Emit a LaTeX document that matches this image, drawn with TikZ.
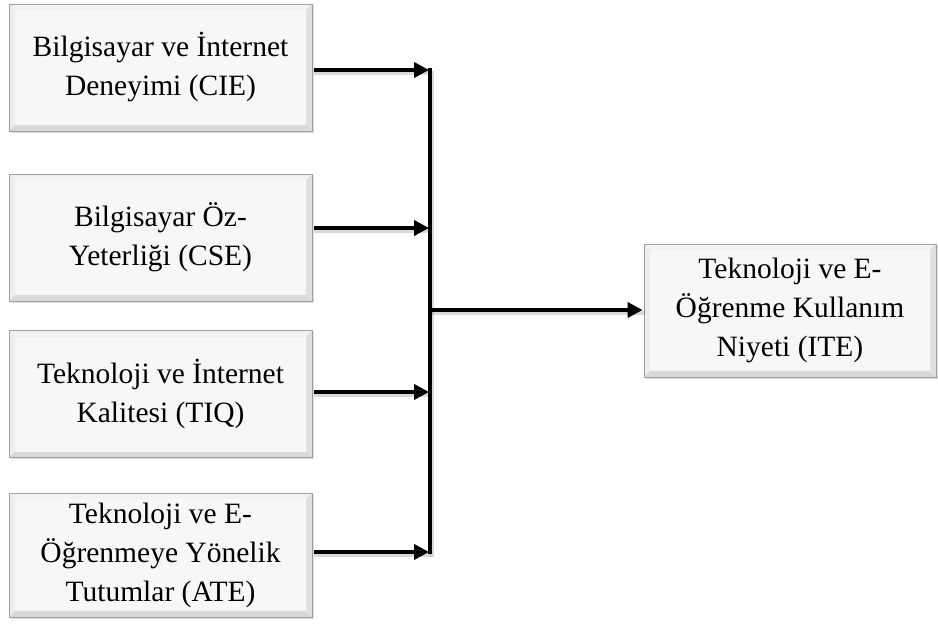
\documentclass[tikz,border=0pt]{standalone}
\usepackage{fontspec}
\setmainfont{Liberation Serif}
\usetikzlibrary{arrows.meta,shadows}
\begin{document}
\begin{tikzpicture}[x=1pt,y=-1pt,
  bevel/.style={path picture={
    \fill[gray!10] (path picture bounding box.north west) -- (path picture bounding box.north east)
      -- ([xshift=-6pt,yshift=-6pt]path picture bounding box.north east) -- ([xshift=6pt,yshift=-6pt]path picture bounding box.north west) -- cycle;
    \fill[gray!14] (path picture bounding box.north west) -- ([xshift=6pt,yshift=-6pt]path picture bounding box.north west)
      -- ([xshift=6pt,yshift=6pt]path picture bounding box.south west) -- (path picture bounding box.south west) -- cycle;
    \fill[gray!30] (path picture bounding box.south west) -- ([xshift=6pt,yshift=6pt]path picture bounding box.south west)
      -- ([xshift=-6pt,yshift=6pt]path picture bounding box.south east) -- (path picture bounding box.south east) -- cycle;
    \fill[gray!24] (path picture bounding box.north east) -- (path picture bounding box.south east)
      -- ([xshift=-6pt,yshift=6pt]path picture bounding box.south east) -- ([xshift=-6pt,yshift=-6pt]path picture bounding box.north east) -- cycle;
    \fill[black!3] ([xshift=6pt,yshift=-6pt]path picture bounding box.north west) rectangle ([xshift=-6pt,yshift=6pt]path picture bounding box.south east);
  }},
  box/.style={minimum width=303pt, minimum height=127pt, inner sep=0pt, align=center,
    font=\fontsize{29.5}{39}\selectfont, draw=gray!75, line width=0.9pt, fill=gray!15, bevel,
    drop shadow={shadow xshift=1.5pt, shadow yshift=-1.5pt, opacity=0.25}},
  conn/.style={line width=4pt, -{Triangle[length=15pt,width=15pt]}},
  busline/.style={line width=4pt},
  shade line/.style={line width=4pt, draw=black, opacity=0.15, transform canvas={shift={(1.5pt,-3pt)}}}
]
\useasboundingbox (0,0) rectangle (938,626);

\node[box] (b1) at (160.5,67.5) {Bilgisayar ve İnternet\\Deneyimi (CIE)};
\node[box] (b2) at (160.5,237.5) {Bilgisayar Öz-\\Yeterliği (CSE)};
\node[box] (b3) at (160.5,394) {Teknoloji ve İnternet\\Kalitesi (TIQ)};
\node[box, minimum height=124pt] (b4) at (160.5,555) {Teknoloji ve E-\\Öğrenmeye Yönelik\\Tutumlar (ATE)};
\node[box, minimum width=292pt, minimum height=133pt] (t) at (790,310.5) {Teknoloji ve E-\\Öğrenme Kullanım\\Niyeti (ITE)};

\coordinate (j1) at (429,70);
\coordinate (j2) at (429,228);
\coordinate (j3) at (429,392);
\coordinate (j4) at (429,552);
\coordinate (jt) at (430,310);
\coordinate (bt) at (430,68);
\coordinate (bb) at (430,554);

% shadows
\draw[shade line] (bt) -- (bb);
\draw[shade line] (j1 -| b1.east) -- (j1);
\draw[shade line] (j2 -| b2.east) -- (j2);
\draw[shade line] (j3 -| b3.east) -- (j3);
\draw[shade line] (j4 -| b4.east) -- (j4);
\draw[shade line] (jt) -- (jt -| t.west);

% connectors
\draw[busline] (bt) -- (bb);
\draw[conn] ([xshift=2pt]j1 -| b1.east) -- (j1);
\draw[conn] ([xshift=2pt]j2 -| b2.east) -- (j2);
\draw[conn] ([xshift=2pt]j3 -| b3.east) -- (j3);
\draw[conn] ([xshift=2pt]j4 -| b4.east) -- (j4);
\draw[conn] (jt) -- ([xshift=-1pt]jt -| t.west);
\end{tikzpicture}
\end{document}
